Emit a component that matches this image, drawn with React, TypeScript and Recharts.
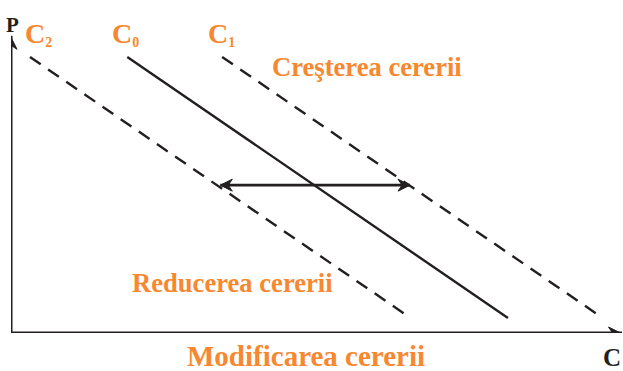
import React from "react";
import { LineChart, Line, XAxis, YAxis } from "recharts";

// Quantity (Q) / price (P) units, 0..100 on each axis
const curveC2 = [
  { q: 3.1, p: 82.9 },
  { q: 65.3, p: 4.5 },
];
const curveC0 = [
  { q: 19.0, p: 82.9 },
  { q: 81.2, p: 4.5 },
];
const curveC1 = [
  { q: 34.5, p: 82.9 },
  { q: 96.7, p: 4.5 },
];
const shiftArrow = [
  { q: 34.2, p: 44.4 },
  { q: 65.2, p: 44.4 },
];
const axisP = [
  { q: 0, p: 0 },
  { q: 0, p: 88.8 },
];
const axisQ = [
  { q: 0, p: 0 },
  { q: 99.6, p: 0 },
];

const curveLabels = [
  { name: "C", sub: "2", x: 25 },
  { name: "C", sub: "0", x: 112 },
  { name: "C", sub: "1", x: 208 },
];
const textIncrease = "Creşterea cererii";
const textDecrease = "Reducerea cererii";
const textTitle = "Modificarea cererii";
const axisPLabel = "P";
const axisQLabel = "C";

const INK = "#231f20";
const ORANGE = "#f7882f";
const FONT = "'Liberation Serif', 'Times New Roman', serif";

type Dir = "up" | "right" | "left";

function arrowPath(cx: number, cy: number, dir: Dir, len = 12, half = 6, notch = 4) {
  if (dir === "right")
    return `M${cx},${cy} L${cx - len},${cy - half} L${cx - len + notch},${cy} L${cx - len},${cy + half} Z`;
  if (dir === "left")
    return `M${cx},${cy} L${cx + len},${cy - half} L${cx + len - notch},${cy} L${cx + len},${cy + half} Z`;
  return `M${cx},${cy} L${cx - half},${cy + len} L${cx},${cy + len - notch} L${cx + half},${cy + len} Z`;
}

const makeDot = (dirs: (Dir | null)[]) => (props: any) => {
  const { cx, cy, index } = props;
  const dir = dirs[index];
  if (!dir || cx == null || cy == null) return <g key={`d-${index}`} />;
  return (
    <path
      key={`d-${index}`}
      d={arrowPath(cx, cy, dir)}
      fill={INK}
      stroke={INK}
      strokeWidth={1}
      strokeLinejoin="miter"
    />
  );
};

export default function App() {
  return (
    <div style={{ position: "absolute", left: 0, top: 0, width: 623, height: 371, background: "#fff" }}>
      <LineChart
        width={623}
        height={371}
        margin={{ top: 0, right: 0, bottom: 38, left: 11 }}
      >
        <XAxis type="number" dataKey="q" domain={[0, 100]} hide allowDataOverflow />
        <YAxis type="number" dataKey="p" domain={[0, 100]} hide allowDataOverflow />
        <Line
          data={axisP}
          dataKey="p"
          stroke={INK}
          strokeWidth={3}
          strokeLinecap="square"
          dot={makeDot([null, "up"])}
          activeDot={false}
          isAnimationActive={false}
        />
        <Line
          data={axisQ}
          dataKey="p"
          stroke={INK}
          strokeWidth={3}
          strokeLinecap="square"
          dot={makeDot([null, "right"])}
          activeDot={false}
          isAnimationActive={false}
        />
        <Line
          data={curveC2}
          dataKey="p"
          stroke={INK}
          strokeWidth={2.4}
          strokeDasharray="13 9"
          dot={false}
          activeDot={false}
          isAnimationActive={false}
        />
        <Line
          data={curveC0}
          dataKey="p"
          stroke={INK}
          strokeWidth={2.4}
          dot={false}
          activeDot={false}
          isAnimationActive={false}
        />
        <Line
          data={curveC1}
          dataKey="p"
          stroke={INK}
          strokeWidth={2.4}
          strokeDasharray="13 9"
          dot={false}
          activeDot={false}
          isAnimationActive={false}
        />
        <Line
          data={shiftArrow}
          dataKey="p"
          stroke={INK}
          strokeWidth={2.6}
          dot={makeDot(["left", "right"])}
          activeDot={false}
          isAnimationActive={false}
        />
      </LineChart>
      <svg
        width={623}
        height={371}
        style={{ position: "absolute", left: 0, top: 0, pointerEvents: "none" }}
        fontFamily={FONT}
        fontWeight="bold"
      >
        <text x={6} y={32} fontSize={21} fill={INK}>{axisPLabel}</text>
        <text x={603} y={366} fontSize={25} fill={INK}>{axisQLabel}</text>
        {curveLabels.map((l) => (
          <text key={l.sub} x={l.x} y={43} fontSize={28} fill={ORANGE}>
            {l.name}
            <tspan fontSize={14} dy={4}>{l.sub}</tspan>
          </text>
        ))}
        <text x={272} y={76} fontSize={26.6} fill={ORANGE}>{textIncrease}</text>
        <text x={132} y={292} fontSize={26.6} fill={ORANGE}>{textDecrease}</text>
        <text x={187} y={366} fontSize={29} fill={ORANGE}>{textTitle}</text>
      </svg>
    </div>
  );
}
